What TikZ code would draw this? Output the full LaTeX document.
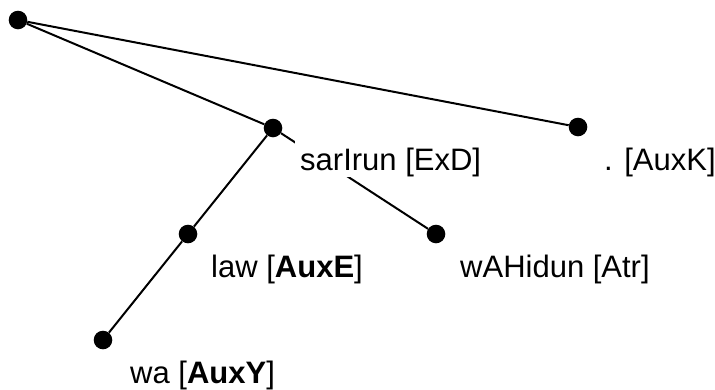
\documentclass[tikz,border=0pt]{standalone}
\usepackage{fontspec}
\setmainfont{Liberation Sans}
\begin{document}
\begin{tikzpicture}[x=1pt,y=-1pt,
  dot/.style={circle,fill=black,inner sep=0pt,minimum size=18.6pt},
  edge/.style={line width=2pt,black},
  lbl/.style={anchor=base west,fill=white,inner xsep=5pt,inner ysep=0pt,text height=29pt,text depth=6.5pt,font=\fontsize{31}{36}\selectfont}]
\useasboundingbox (0,0) rectangle (715,389);
\node[dot] (root) at (18,20) {};
\node[dot] (sar) at (273,128) {};
\node[dot] (auxk) at (578,127) {};
\node[dot] (law) at (188,234) {};
\node[dot] (wah) at (436,234) {};
\node[dot] (wa) at (103,340) {};
\draw[edge] (root) -- (sar);
\draw[edge] (root) -- (auxk);
\draw[edge] (sar) -- (law);
\draw[edge] (sar) -- (wah);
\draw[edge] (law) -- (wa);
\node[lbl] (tsar) at (295,170) {sarIrun [ExD]};
\node[lbl] (tauxk) at (599,170) {. [AuxK]};
\node[lbl] (tlaw) at (206,277) {law [\textbf{AuxE}]};
\node[lbl] (twah) at (455,277) {wAHidun [Atr]};
\node[lbl] (twa) at (125,383) {wa [\textbf{AuxY}]};
\end{tikzpicture}
\end{document}
